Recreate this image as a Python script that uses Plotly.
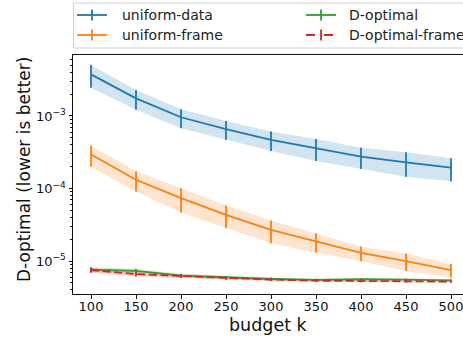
import plotly.graph_objects as go

budget = [100, 150, 200, 250, 300, 350, 400, 450, 500]

ud_mean = [3.75e-3, 1.75e-3, 0.96e-3, 0.66e-3, 0.47e-3, 0.36e-3, 0.275e-3, 0.23e-3, 0.194e-3]
ud_std = [1.3e-3, 0.53e-3, 0.28e-3, 0.19e-3, 0.14e-3, 0.12e-3, 0.09e-3, 0.085e-3, 0.068e-3]

uf_mean = [2.95e-4, 1.32e-4, 7.35e-5, 4.34e-5, 2.69e-5, 1.85e-5, 1.29e-5, 1.0e-5, 7.5e-6]
uf_std = [0.95e-4, 0.41e-4, 2.7e-5, 1.5e-5, 0.93e-5, 0.55e-5, 0.3e-5, 0.27e-5, 0.16e-5]

do_mean = [7.6e-6, 7.3e-6, 6.3e-6, 5.9e-6, 5.65e-6, 5.5e-6, 5.6e-6, 5.55e-6, 5.4e-6]
do_std = [0.6e-6, 0.5e-6, 0.35e-6, 0.3e-6, 0.25e-6, 0.2e-6, 0.25e-6, 0.2e-6, 0.2e-6]

dof_mean = [7.5e-6, 6.6e-6, 6.2e-6, 5.8e-6, 5.55e-6, 5.35e-6, 5.3e-6, 5.25e-6, 5.2e-6]
dof_std = [0.6e-6, 0.5e-6, 0.35e-6, 0.3e-6, 0.25e-6, 0.2e-6, 0.2e-6, 0.2e-6, 0.2e-6]

series = [
    ("uniform-data", ud_mean, ud_std, "#1f77b4", "rgba(31,119,180,0.2)", "solid"),
    ("uniform-frame", uf_mean, uf_std, "#ff7f0e", "rgba(255,127,14,0.2)", "solid"),
    ("D-optimal", do_mean, do_std, "#2ca02c", "rgba(44,160,44,0.2)", "solid"),
    ("D-optimal-frame", dof_mean, dof_std, "#d62728", "rgba(214,39,40,0.2)", "8px,3.6px"),
]

W, H = 463, 341
L, R, T, B = 73, 0, 55, 47
PW, PH = W - L - R, H - T - B

fig = go.Figure()
for name, m, s, col, fcol, dash in series:
    lo = [a - b for a, b in zip(m, s)]
    hi = [a + b for a, b in zip(m, s)]
    fig.add_trace(go.Scatter(x=budget, y=lo, mode="lines", line=dict(width=0), showlegend=False, hoverinfo="skip"))
    fig.add_trace(go.Scatter(x=budget, y=hi, mode="lines", line=dict(width=0), fill="tonexty",
                             fillcolor=fcol, showlegend=False, hoverinfo="skip"))
    fig.add_trace(go.Scatter(x=budget, y=m, mode="lines", name=name,
                             line=dict(color=col, width=1.8, dash=dash),
                             error_y=dict(type="data", array=s, visible=True, color=col, thickness=1.8, width=0),
                             showlegend=False))

def px2x(px):
    return (px - L) / PW

def px2y(py):
    return (H - B - py) / PH

shapes = []
annotations = []
# legend box
shapes.append(dict(type="rect", xref="paper", yref="paper", x0=px2x(73.5), x1=px2x(475), y0=px2y(3), y1=px2y(48),
                   line=dict(color="#d0d0d0", width=1), fillcolor="rgba(255,255,255,0.8)", layer="above"))
leg_pos = [(77, 15, 119.5), (77, 35, 119.5), (306, 15, 347), (306, 35, 347)]
for (name, m, s, col, fcol, dash), (sx, sy, tx) in zip(series, leg_pos):
    shapes.append(dict(type="line", xref="paper", yref="paper", x0=px2x(sx), x1=px2x(sx + 30), y0=px2y(sy), y1=px2y(sy),
                       line=dict(color=col, width=1.8, dash="dash" if dash != "solid" else "solid"), layer="above"))
    shapes.append(dict(type="line", xref="paper", yref="paper", x0=px2x(sx + 15), x1=px2x(sx + 15), y0=px2y(sy - 5.5), y1=px2y(sy + 5.5),
                       line=dict(color=col, width=1.8), layer="above"))
    annotations.append(dict(text=name, xref="paper", yref="paper", x=px2x(tx), y=px2y(sy), xanchor="left", yanchor="middle",
                            showarrow=False, font=dict(size=14, color="#222")))

annotations.append(dict(text="budget k", xref="paper", yref="paper", x=px2x(268), y=px2y(325), xanchor="center", yanchor="middle",
                        showarrow=False, font=dict(size=17.5, color="#111")))
annotations.append(dict(text="D-optimal (lower is better)", xref="paper", yref="paper", x=px2x(24), y=px2y(170), xanchor="center",
                        yanchor="middle", textangle=-90, showarrow=False, font=dict(size=17, color="#111")))

minor_vals = [k * 10.0 ** e for e in range(-6, -1) for k in range(2, 10)]

fig.update_layout(
    width=W, height=H, margin=dict(l=L, r=R, t=T, b=B, pad=0),
    paper_bgcolor="white", plot_bgcolor="white",
    font=dict(family="DejaVu Sans", size=13, color="#111"),
    showlegend=False,
    shapes=shapes, annotations=annotations,
    xaxis=dict(range=[80, 80 + PW / 0.9], tickvals=budget, ticks="outside", ticklen=3.5, tickwidth=1,
               tickcolor="#111", showline=True, linecolor="#111", linewidth=1, mirror=True, showgrid=False,
               zeroline=False, tickfont=dict(size=13), ticklabeloverflow="allow", ticklabelstandoff=-3),
    yaxis=dict(type="log", range=[-5.455, -2.159], tickvals=[1e-5, 1e-4, 1e-3],
               ticktext=["10<sup>\u22125</sup>", "10<sup>\u22124</sup>", "10<sup>\u22123</sup>"],
               ticks="outside", ticklen=3.5, tickwidth=1, tickcolor="#111", showline=True, linecolor="#111",
               linewidth=1, showgrid=False, zeroline=False, tickfont=dict(size=13),
               minor=dict(tickvals=minor_vals, ticks="outside", ticklen=2, tickcolor="#111", tickwidth=0.8, showgrid=False)),
)

fig.write_html("out.html")
